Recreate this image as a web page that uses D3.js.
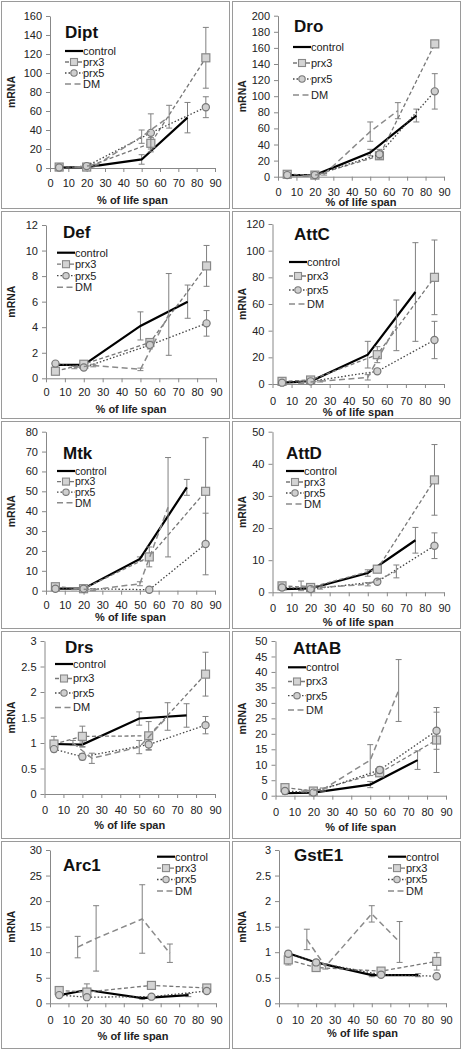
<!DOCTYPE html>
<html><head><meta charset="utf-8">
<script src="https://cdn.jsdelivr.net/npm/d3@7"></script>
<style>
body{margin:0;background:#fff;}
svg text{font-family:"Liberation Sans",Arial,sans-serif;}
</style></head>
<body>
<svg id="c" width="463" height="1050"></svg>
<script>
// ---------- DATA ----------
const genes = ["Dipt","Dro","Def","AttC","Mtk","AttD","Drs","AttAB","Arc1","GstE1"];
const seriesNames = ["control","prx3","prx5","DM"];
const xControl = [5,20,50,75];
const xPrx = [5,20,55,85];
const xDM = [15,25,50,65];
const xTickValues = [0,10,20,30,40,50,60,70,80,90];
const yMaxes = [160,200,12,120,80,50,3,50,30,3];
const ySteps = [20,20,2,20,10,10,0.5,5,5,0.5];

const controlVals = [[0.5,1,9,53],[2,2,30,76],[1.05,1.05,4.1,6.0],[1,2,22,69],[1,1,16,52],[1,1.2,6,16.2],[0.98,0.97,1.48,1.54],[0.8,1,3.6,11.5],[1.6,2.6,1.0,1.6],[0.98,0.8,0.55,0.55]];
const prx3Vals = [[1,1,26,116],[3,2,26,165],[0.55,1.1,2.8,8.8],[2,3,22,80],[2,1,17,50],[2,1.5,7.2,35],[0.98,1.13,1.14,2.35],[2.6,1.5,7.4,18],[2.5,2.2,3.5,3.0],[0.85,0.7,0.63,0.82]];
const prx5Vals = [[0.5,2,37,64],[2,2,28,106],[1.15,0.85,2.6,4.3],[1,2,9.5,33],[1,1,0.5,23.5],[1.5,1,3.3,14.5],[0.88,0.73,0.97,1.35],[1.5,1,8.3,21],[1.6,1.2,1.3,2.4],[0.97,0.8,0.56,0.53]];
const dmVals = [[1,3,33,54],[1,3,56,82],[0.85,1.0,0.7,5.0],[1,2,5,44],[1,0.5,3.5,42],[2,1.5,2.5,6.5],[1.0,0.7,0.92,1.52],[1.5,2,11.5,34],[11,12.7,16.5,9.8],[1.25,0.72,1.75,1.2]];

const controlErr = [[0.5,0.5,5,16],[0.5,0.5,4,8],[0.1,0.1,1.1,1.3],[0.5,0.5,10,37],[0.5,0.5,1,4],[0.3,0.5,1,4],[0.05,0.05,0.13,0.23],[0.3,0.3,1,3],[0.3,1.2,0.2,0.3],[0.03,0.03,0.03,0.03]];
const prx3Err = [[0.5,0.5,6,32],[0.5,0.5,4,0],[0.1,0.1,0.3,1.6],[0.5,1,6,28],[0.5,0.5,5,27],[0.5,0.3,1,11],[0.15,0.2,0.28,0.43],[0.5,0.5,1,10.5],[0.3,0.5,0.5,0.3],[0.1,0.05,0.05,0.17]];
const prx5Err = [[0.5,1,20,11],[0.5,0.5,6,22],[0.1,0.1,0.3,1.0],[0.5,0.5,1,14],[0.2,0.2,0.2,15.5],[0.3,0.3,0.5,4],[0.05,0.06,0.1,0.17],[0.3,0.3,1,6],[0.2,0.2,0.2,0.3],[0.05,0.05,0.05,0.03]];
const dmErr = [[0.5,1,7,12],[0.5,1,12,10],[0.1,0.1,0.1,3.2],[0.5,0.5,2,19],[0.5,0.5,1,25],[1.5,0.5,0.5,2],[0.05,0.1,0.13,0.27],[0.3,0.5,5,10],[2.1,6.4,6.7,1.8],[0.2,0.05,0.16,0.4]];

// ---------- LAYOUT ----------
const layout = [
 {ox:0,oy:0,x0:50,x90:215,yT:16,yB:168,tx:65,ty:38,lx:65,ly:51,ld:11,xl:187,at:204},
 {ox:231,oy:0,x0:47,x90:213,yT:15.7,yB:176.7,tx:63,ty:32,lx:62,ly:47,ld:16,xl:196,at:206},
 {ox:0,oy:210,x0:46,x90:216,yT:15,yB:168.3,tx:63,ty:28,lx:57,ly:42.7,ld:11.5,xl:186,at:203},
 {ox:231,oy:210,x0:41.5,x90:213,yT:14,yB:174,tx:63,ty:30,lx:58,ly:52,ld:14,xl:195,at:206},
 {ox:0,oy:420,x0:46,x90:215,yT:11.7,yB:170.7,tx:63,ty:39,lx:57,ly:51,ld:10.6,xl:189,at:201},
 {ox:231,oy:420,x0:41.5,x90:213,yT:11.7,yB:172.3,tx:55,ty:39,lx:55,ly:51,ld:11,xl:192,at:206},
 {ox:0,oy:630,x0:44.5,x90:215,yT:11,yB:164,tx:65,ty:23,lx:55,ly:34,ld:14.5,xl:184,at:199},
 {ox:231,oy:630,x0:44.5,x90:215,yT:11,yB:165.7,tx:62,ty:24,lx:57,ly:37.3,ld:14.2,xl:186,at:201},
 {ox:0,oy:840,x0:50,x90:216,yT:10,yB:163.3,tx:63,ty:31,lx:157,ly:16.7,ld:11.4,xl:184,at:200},
 {ox:231,oy:840,x0:48,x90:215,yT:10,yB:163.3,tx:63,ty:21,lx:157,ly:16.7,ld:11.4,xl:184,at:197}
];

const styles = {
  control:{stroke:"#000",width:2.2,dash:null,marker:null},
  prx3:{stroke:"#777",width:1.3,dash:"4,2.5",marker:"square"},
  prx5:{stroke:"#444",width:1.3,dash:"1.5,2",marker:"circle"},
  DM:{stroke:"#8a8a8a",width:1.5,dash:"6,3.5",marker:null}
};

const svg = d3.select("#c");

genes.forEach((g,i)=>{
  const L = layout[i];
  const p = svg.append("g").attr("transform",`translate(${L.ox},${L.oy})`);
  p.append("rect").attr("x",1.5).attr("y",1.5).attr("width",228).attr("height",207)
    .attr("fill","none").attr("stroke","#9a9a9a").attr("stroke-width",1);

  const x = d3.scaleLinear().domain([0,90]).range([L.x0,L.x90]);
  const y = d3.scaleLinear().domain([0,yMaxes[i]]).range([L.yB,L.yT]);
  const yt = d3.range(0, yMaxes[i]+ySteps[i]/2, ySteps[i]);

  const ya = p.append("g").attr("transform",`translate(${L.x0},0)`)
    .call(d3.axisLeft(y).tickValues(yt).tickSize(4).tickSizeOuter(0).tickPadding(4)
      .tickFormat(d=>d3.format("~g")(d)));
  const xa = p.append("g").attr("transform",`translate(0,${L.yB})`)
    .call(d3.axisBottom(x).tickValues(xTickValues).tickSize(4).tickSizeOuter(0).tickPadding(3));
  [ya,xa].forEach(a=>{
    a.select(".domain").attr("stroke","#888");
    a.selectAll(".tick line").attr("stroke","#888");
    a.selectAll(".tick text").attr("fill","#222").style("font-size","11px")
      .style("font-family","'Liberation Sans',Arial,sans-serif");
  });
  xa.selectAll(".tick text").attr("dy",null).attr("y",L.xl - L.yB);

  // axis titles
  p.append("text").attr("x",(L.x0+L.x90)/2).attr("y",L.at).attr("text-anchor","middle")
    .style("font-size","11px").style("font-weight","bold").attr("fill","#222").text("% of life span");
  p.append("text").attr("transform",`translate(14.5,${(L.yT+L.yB)/2}) rotate(-90)`)
    .attr("text-anchor","middle").style("font-size","10.5px").style("font-weight","bold")
    .attr("fill","#222").text("mRNA");

  // series
  const all = [
    {name:"control",xs:xControl,vals:controlVals[i],err:controlErr[i]},
    {name:"prx3",xs:xPrx,vals:prx3Vals[i],err:prx3Err[i]},
    {name:"prx5",xs:xPrx,vals:prx5Vals[i],err:prx5Err[i]},
    {name:"DM",xs:xDM,vals:dmVals[i],err:dmErr[i]}
  ];
  const line = d3.line().x(d=>x(d[0])).y(d=>y(d[1]));
  all.forEach(s=>{
    const st = styles[s.name];
    const pts = s.xs.map((xx,k)=>[xx,s.vals[k],s.err[k]]);
    const eg = p.append("g");
    pts.forEach(d=>{
      if(!d[2]) return;
      const cx = x(d[0]), lo = y(Math.max(0,d[1]-d[2])), hi = y(d[1]+d[2]);
      eg.append("line").attr("x1",cx).attr("x2",cx).attr("y1",lo).attr("y2",hi).attr("stroke","#808080").attr("stroke-width",1);
      [lo,hi].forEach(v=>eg.append("line").attr("x1",cx-3).attr("x2",cx+3).attr("y1",v).attr("y2",v).attr("stroke","#808080").attr("stroke-width",1));
    });
    p.append("path").datum(pts).attr("d",line).attr("fill","none")
      .attr("stroke",st.stroke).attr("stroke-width",st.width)
      .attr("stroke-dasharray",st.dash);
    if(st.marker==="square"){
      p.selectAll(null).data(pts).enter().append("rect")
        .attr("x",d=>x(d[0])-4).attr("y",d=>y(d[1])-4).attr("width",8).attr("height",8)
        .attr("fill","#d4d4d4").attr("stroke","#888").attr("stroke-width",1.2);
    } else if(st.marker==="circle"){
      p.selectAll(null).data(pts).enter().append("circle")
        .attr("cx",d=>x(d[0])).attr("cy",d=>y(d[1])).attr("r",3.6)
        .attr("fill","#cfcfcf").attr("stroke","#777").attr("stroke-width",1.2);
    }
  });

  // title
  p.append("text").attr("x",L.tx).attr("y",L.ty).style("font-size","17px").style("font-weight","bold")
    .attr("fill","#111").text(g);

  // legend
  seriesNames.forEach((n,k)=>{
    const st = styles[n];
    const cy = L.ly + k*L.ld;
    p.append("line").attr("x1",L.lx).attr("x2",L.lx+18).attr("y1",cy).attr("y2",cy)
      .attr("stroke",st.stroke).attr("stroke-width",st.width).attr("stroke-dasharray",st.dash);
    if(st.marker==="square"){
      p.append("rect").attr("x",L.lx+9-3.5).attr("y",cy-3.5).attr("width",7).attr("height",7)
        .attr("fill","#d4d4d4").attr("stroke","#888").attr("stroke-width",1.1);
    } else if(st.marker==="circle"){
      p.append("circle").attr("cx",L.lx+9).attr("cy",cy).attr("r",3.2)
        .attr("fill","#cfcfcf").attr("stroke","#777").attr("stroke-width",1.1);
    }
    p.append("text").attr("x",L.lx+18).attr("y",cy+3.8).style("font-size",(L.ld<11?"10.5px":"11px"))
      .attr("fill","#222").text(n);
  });
});
</script>
</body></html>
